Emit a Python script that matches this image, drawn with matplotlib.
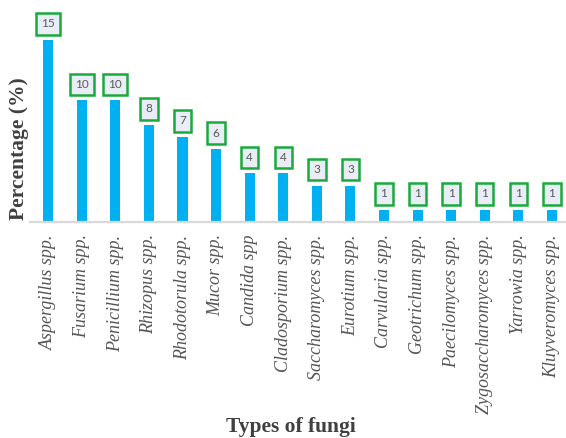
import matplotlib
matplotlib.use("Agg")
import matplotlib.pyplot as plt

fungi = ["Aspergillus spp.", "Fusarium spp.", "Penicillium spp.", "Rhizopus spp.",
         "Rhodotorula spp.", "Mucor spp.", "Candida spp", "Cladosporium spp.",
         "Saccharomyces spp.", "Eurotium spp.", "Carvularia spp.", "Geotrichum spp.",
         "Paecilomyces spp.", "Zygosaccharomyces spp.", "Yarrowia spp.", "Kluyveromyces spp."]
percent = [15, 10, 10, 8, 7, 6, 4, 4, 3, 3, 1, 1, 1, 1, 1, 1]

fig = plt.figure(figsize=(5.66, 4.38), dpi=100)
ax = fig.add_axes([30 / 566, (438 - 222) / 438, 536 / 566, 222 / 438])

x = list(range(len(fungi)))
ax.bar(x, percent, width=0.3, color="#00b0f0", zorder=2)

for xi, v in zip(x, percent):
    ax.annotate(str(v), (xi, v), xytext=(0, 11.5), textcoords="offset points",
                ha="center", va="center", fontsize=8.5, color="#595959",
                family="Lato",
                bbox=dict(boxstyle="square,pad=0.45", fc="#e8edf6", ec="#1aaa3c", lw=1.8))

ax.set_xlim(-0.54, 15.42)
ax.set_ylim(0, 18.27)
ax.set_yticks([])
ax.set_xticks(x)
ax.set_xticklabels(fungi, rotation=90, fontsize=13, family="Liberation Serif",
                   style="italic", color="#555555")
ax.tick_params(axis="x", length=0, pad=9)
for side in ["top", "right", "left"]:
    ax.spines[side].set_visible(False)
ax.spines["bottom"].set_color("#d9d9d9")
ax.spines["bottom"].set_linewidth(1.6)

fig.text(19 / 566, 1 - 149 / 438, "Percentage (%)", rotation=90, ha="center", va="center",
         fontsize=15.5, fontweight="bold", family="Liberation Serif", color="#404040")
fig.text(291 / 566, 1 - 432 / 438, "Types of fungi", ha="center", va="baseline",
         fontsize=15.5, fontweight="bold", family="Liberation Serif", color="#404040")

fig.savefig("out.png", dpi=100)
